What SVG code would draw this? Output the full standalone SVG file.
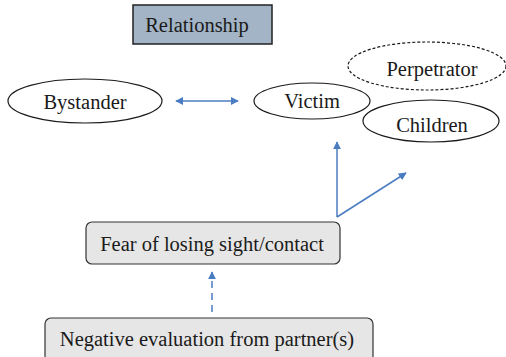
<svg xmlns="http://www.w3.org/2000/svg" width="506" height="357" viewBox="0 0 506 357">
  <style>
    .lbl { font-size: 20.5px; fill: #1a1a1a; text-anchor: middle; }
    .oval { fill: #ffffff; stroke: #1a1a1a; stroke-width: 1.2; }
    .dashed-oval { stroke-dasharray: 3 2; }
    .box { fill: #e6e6e6; stroke: #333333; stroke-width: 1.2; }
    .title { fill: #a3b4c6; stroke: #222222; stroke-width: 1.5; }
    .link { fill: none; stroke: #4a7cc2; stroke-width: 1.5; }
    .dashed-link { stroke-dasharray: 7 5; }
  </style>
  <defs>
    <marker id="head" viewBox="0 0 10 10" refX="9" refY="5" markerWidth="8" markerHeight="8" markerUnits="userSpaceOnUse" orient="auto-start-reverse">
      <path d="M0,0 L10,5 L0,10 z" fill="#4a7cc2"/>
    </marker>
  </defs>

  <g id="relationship">
    <rect class="title" x="133" y="5" width="139" height="39"/>
    <text class="lbl" font-family="Liberation Serif" x="197" y="32">Relationship</text>
  </g>

  <g id="bystander">
    <ellipse class="oval" cx="85" cy="101" rx="77" ry="22"/>
    <text class="lbl" font-family="Liberation Serif" x="85" y="109">Bystander</text>
  </g>

  <g id="victim">
    <ellipse class="oval" cx="312" cy="101" rx="58" ry="18"/>
    <text class="lbl" font-family="Liberation Serif" x="312" y="108">Victim</text>
  </g>

  <g id="perpetrator">
    <ellipse class="oval dashed-oval" cx="427" cy="66" rx="79" ry="24"/>
    <text class="lbl" font-family="Liberation Serif" x="432" y="76">Perpetrator</text>
  </g>

  <g id="children">
    <ellipse class="oval" cx="431" cy="121" rx="68" ry="21"/>
    <text class="lbl" font-family="Liberation Serif" x="432" y="132">Children</text>
  </g>

  <g id="fear">
    <rect class="box" x="86" y="222" width="254" height="42" rx="6"/>
    <text class="lbl" font-family="Liberation Serif" x="212" y="251">Fear of losing sight/contact</text>
  </g>

  <g id="negative">
    <rect class="box" x="45" y="318" width="328" height="45" rx="6"/>
    <text class="lbl" font-family="Liberation Serif" x="207" y="346">Negative evaluation from partner(s)</text>
  </g>

  <g id="connectors">
    <line class="link" x1="176" y1="101" x2="238" y2="101" marker-start="url(#head)" marker-end="url(#head)"/>
    <line class="link" x1="337" y1="217" x2="337" y2="142" marker-end="url(#head)"/>
    <line class="link" x1="337" y1="217" x2="406" y2="173" marker-end="url(#head)"/>
    <line class="link dashed-link" x1="212" y1="312" x2="212" y2="272" marker-end="url(#head)"/>
  </g>
</svg>
